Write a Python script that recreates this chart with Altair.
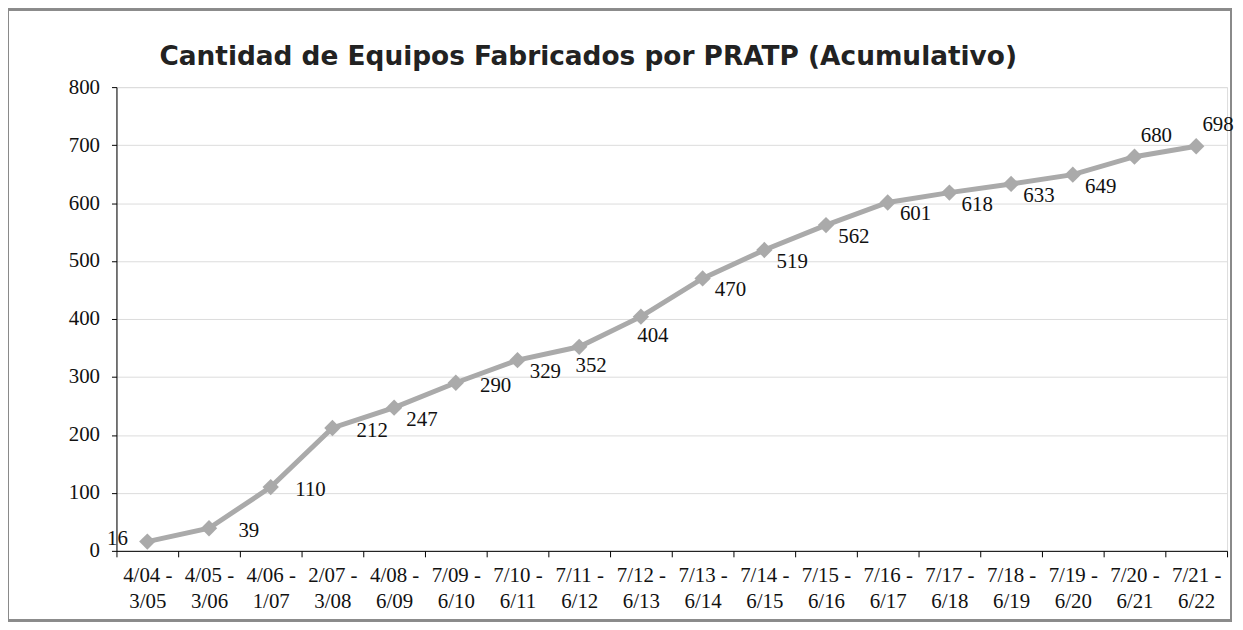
import altair as alt
import pandas as pd

periods = ["4/04 - 3/05", "4/05 - 3/06", "4/06 - 1/07", "2/07 - 3/08", "4/08 - 6/09",
           "7/09 - 6/10", "7/10 - 6/11", "7/11 - 6/12", "7/12 - 6/13", "7/13 - 6/14",
           "7/14 - 6/15", "7/15 - 6/16", "7/16 - 6/17", "7/17 - 6/18", "7/18 - 6/19",
           "7/19 - 6/20", "7/20 - 6/21", "7/21 - 6/22"]
values = [16, 39, 110, 212, 247, 290, 329, 352, 404, 470, 519, 562, 601, 618, 633, 649, 680, 698]
label_pos = ["left", "right", "right", "right", "below-right", "right", "below-right", "below",
             "below", "below-right", "below-right", "below-right", "below-right", "below-right",
             "below-right", "below-right", "above", "above"]
y_ticks = [0, 100, 200, 300, 400, 500, 600, 700, 800]
title_text = "Cantidad de Equipos Fabricados por PRATP (Acumulativo)"

# label placement style -> (dx, dy)
offsets = {"left": (-30, -3), "right": (40, 3), "below-right": (28, 12),
           "below": (12, 19), "above": (22, -21)}

df = pd.DataFrame({"periodo": periods, "equipos": values, "pos": label_pos})

W, H = 1116, 466
LINE = "#aaaaaa"
SERIF = "Liberation Serif"

x_enc = alt.X("periodo:N", sort=periods, title=None,
              scale=alt.Scale(paddingInner=0, paddingOuter=0),
              axis=alt.Axis(labelAngle=0, tickBand="extent", domainColor="#000",
                            tickColor="#000", tickSize=6, labelPadding=8,
                            labelFont=SERIF, labelFontSize=21,
                            labelColor="#111", labelLineHeight=26, labelBaseline="top",
                            labelExpr="datum.label ? [split(datum.label, ' - ')[0] + ' -', split(datum.label, ' - ')[1]] : ''"))
y_enc = alt.Y("equipos:Q", title=None,
              scale=alt.Scale(domain=[0, 800], nice=False),
              axis=alt.Axis(values=y_ticks, domainColor="#000", tickColor="#000",
                            tickSize=5, labelPadding=12, labelFont=SERIF,
                            labelFontSize=21, labelColor="#111", grid=True,
                            gridColor="#dcdcdc", gridWidth=1))

base = alt.Chart(df).encode(x=x_enc, y=y_enc)

frame = alt.Chart(df).mark_rect(fill=None, stroke="#8a8a8a", strokeWidth=1.5).encode(
    x=alt.value(-109), x2=alt.value(W + 4), y=alt.value(-78), y2=alt.value(H + 70))

title = alt.Chart(pd.DataFrame({"t": [title_text]})).mark_text(
    font="DejaVu Sans", fontSize=26.5, fontWeight="bold", color="#222222",
    align="center", baseline="alphabetic").encode(
    text="t:N", x=alt.value(474), y=alt.value(-22))

line = base.mark_line(color=LINE, strokeWidth=5)
pts = base.mark_point(shape="diamond", filled=True, size=270, color=LINE, opacity=1)

texts = []
for name, (dx, dy) in offsets.items():
    texts.append(
        base.transform_filter(alt.datum.pos == name).mark_text(
            font=SERIF, fontSize=21, color="#111", dx=dx, dy=dy,
            align="center", baseline="middle").encode(text="equipos:Q"))

chart = alt.layer(frame, title, line, pts, *texts).properties(
    width=W, height=H,
    autosize=alt.AutoSizeParams(type="none"),
    padding={"left": 109, "top": 78, "right": 8, "bottom": 70},
).configure_view(stroke=None).configure(background="white")

chart.save("out.html", embed_options={"renderer": "svg", "actions": False})
